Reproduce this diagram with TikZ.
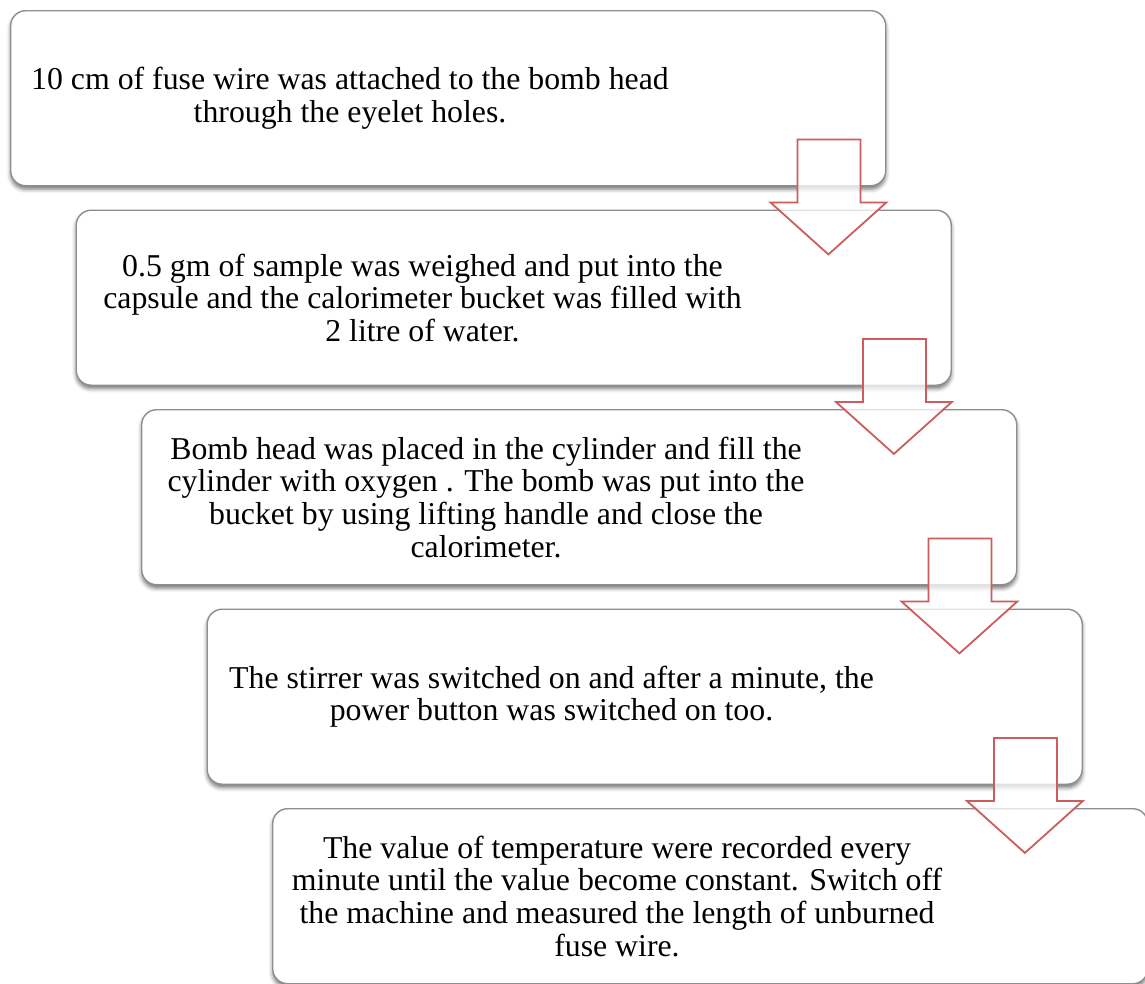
\documentclass[tikz,border=0pt]{standalone}
\usepackage{fontspec}
\setmainfont{Liberation Serif}
\usetikzlibrary{calc,shadows.blur}
\definecolor{boxline}{HTML}{8E8E8E}
\definecolor{arrowred}{HTML}{CD5C5C}
\tikzset{
  stepbox/.style={draw=boxline, line width=1.4pt, fill=white, rounded corners=15pt,
    minimum width=875pt, minimum height=175pt, anchor=north west, inner sep=0pt,
    blur shadow={shadow xshift=0pt, shadow yshift=-3.5pt, shadow blur radius=4pt, shadow opacity=55}},
  steptext/.style={align=center, inner sep=0pt, font=\fontsize{31.8}{32.6}\selectfont},
  blockarrow/.style={draw=arrowred, line width=1.8pt, fill=white, fill opacity=0.75, line join=miter}
}
\newcommand{\blockarrowfrom}[2]{%
  \draw[blockarrow] ($(#1.south east)+(-89,-47)$) -- ($(#1.south east)+(-26,-47)$)
    -- ($(#1.south east)+(-26,16)$) -- ($(#1.south east)+(0,16)$)
    -- ($(#1.south east)+(-58,68)$) coordinate (#2tip) -- ($(#1.south east)+(-116,16)$)
    -- ($(#1.south east)+(-89,16)$) -- cycle;}
\begin{document}
\begin{tikzpicture}[x=1pt,y=-1pt]
\useasboundingbox (0,0) rectangle (1145,983);
\node[stepbox] (b1) at (10,10) {};
\node[stepbox] (b2) at (75.5,209.5) {};
\node[stepbox] (b3) at (141,409) {};
\node[stepbox] (b4) at (206.5,608.5) {};
\node[stepbox] (b5) at (272,808) {};
\node[steptext] (t1) at ($(b1.west)+(340,0)$) {10 cm of fuse wire was attached to the bomb head\\through the eyelet holes.};
\node[steptext] (t2) at ($(b2.west)+(347,0)$) {0.5 gm of sample was weighed and put into the\\capsule and the calorimeter bucket was filled with\\2 litre of water.};
\node[steptext] (t3) at ($(b3.west)+(345,0)$) {Bomb head was placed in the cylinder and fill the\\cylinder with oxygen . The bomb was put into the\\bucket by using lifting handle and close the\\calorimeter.};
\node[steptext] (t4) at ($(b4.west)+(345,0)$) {The stirrer was switched on and after a minute, the\\power button was switched on too.};
\node[steptext] (t5) at ($(b5.west)+(345,0)$) {The value of temperature were recorded every\\minute until the value become constant. Switch off\\the machine and measured the length of unburned\\fuse wire.};
\blockarrowfrom{b1}{a1}
\blockarrowfrom{b2}{a2}
\blockarrowfrom{b3}{a3}
\blockarrowfrom{b4}{a4}
\end{tikzpicture}
\end{document}
